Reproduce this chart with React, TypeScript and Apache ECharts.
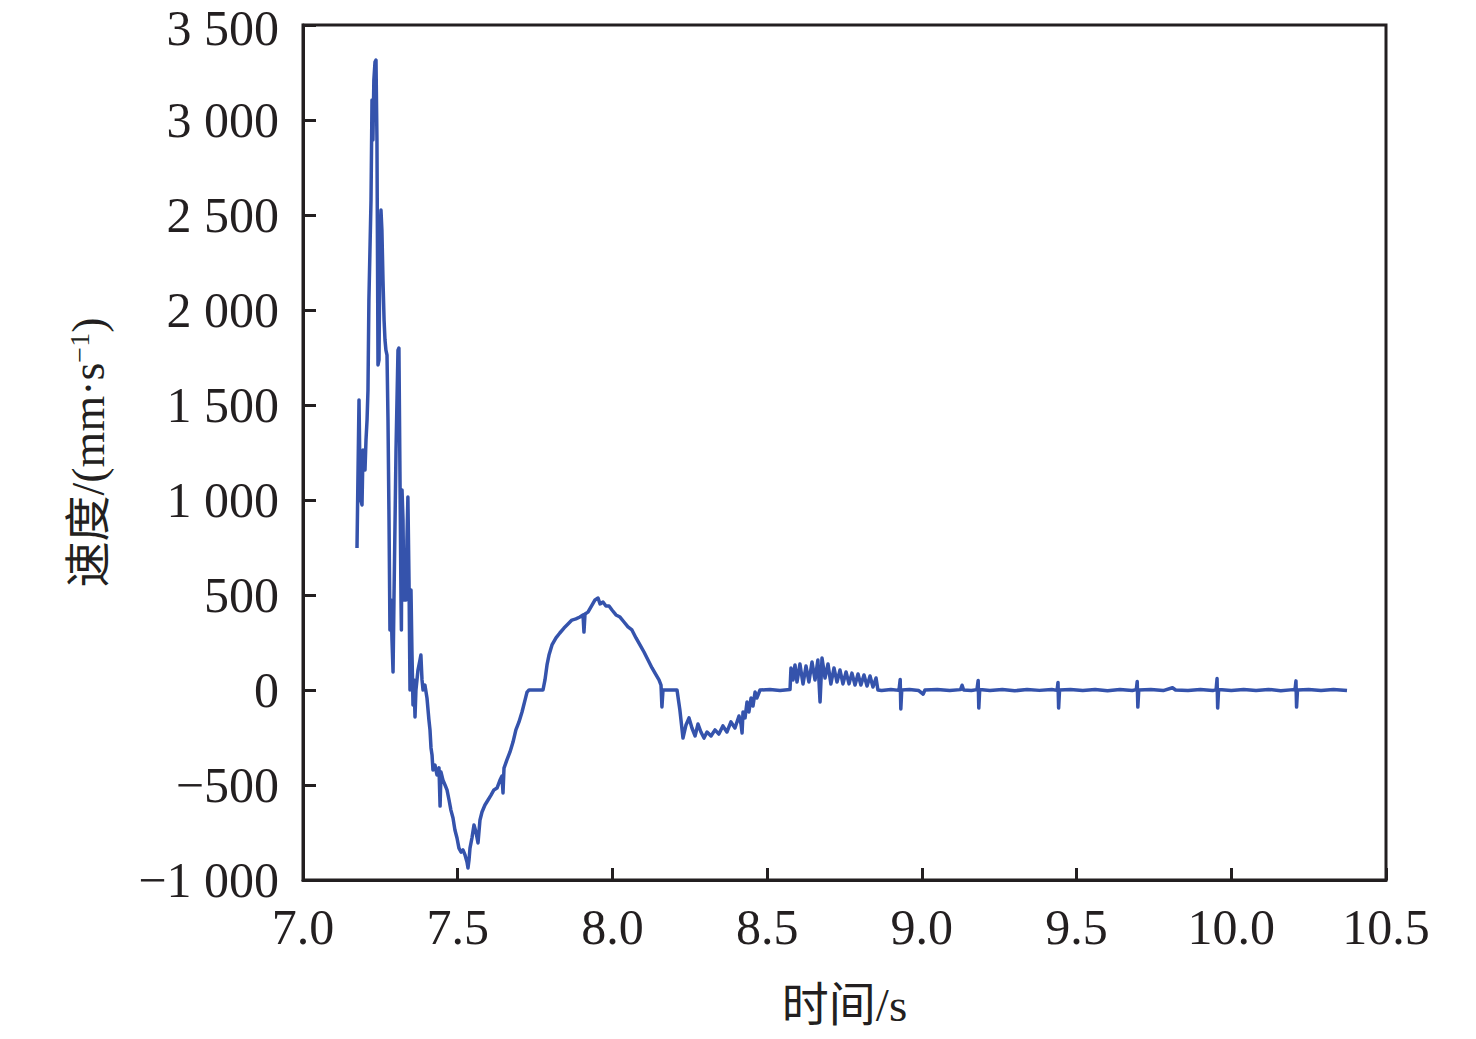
import React, { useEffect, useRef } from "react";
import * as echarts from "echarts";

const xTicks = [7.0, 7.5, 8.0, 8.5, 9.0, 9.5, 10.0, 10.5];
const yTicks = [-1000, -500, 0, 500, 1000, 1500, 2000, 2500, 3000, 3500];

// time (s)
const timeS = [
  7.1745, 7.181, 7.184, 7.187, 7.1907, 7.194, 7.197, 7.2004, 7.2036, 7.207, 7.21, 7.213, 7.2198, 7.223, 7.226, 7.229, 7.2327, 7.2359, 7.239, 7.2407,
  7.2424, 7.2456, 7.2488, 7.252, 7.255, 7.2585, 7.262, 7.265, 7.268, 7.2715, 7.2747, 7.278, 7.281, 7.2844, 7.2876, 7.291, 7.294, 7.3006, 7.307, 7.31,
  7.3135, 7.3167, 7.318, 7.32, 7.3232, 7.326, 7.3296, 7.333, 7.336, 7.339, 7.3426, 7.3458, 7.349, 7.352, 7.3555, 7.3587, 7.362, 7.365, 7.3716, 7.378,
  7.381, 7.3846, 7.388, 7.394, 7.4007, 7.407, 7.4104, 7.4137, 7.417, 7.42, 7.4266, 7.433, 7.4395, 7.443, 7.446, 7.4524, 7.459, 7.4654, 7.472, 7.478,
  7.4848, 7.491, 7.4977, 7.504, 7.5106, 7.517, 7.5236, 7.53, 7.5332, 7.5365, 7.5397, 7.546, 7.5526, 7.559, 7.5656, 7.572, 7.5785, 7.588, 7.598, 7.6076,
  7.617, 7.627, 7.6367, 7.643, 7.6464, 7.6496, 7.659, 7.669, 7.6787, 7.688, 7.698, 7.7078, 7.7175, 7.724, 7.7304, 7.75, 7.7756, 7.782, 7.7886, 7.795,
  7.8047, 7.8176, 7.83, 7.8435, 7.8564, 7.869, 7.882, 7.895, 7.905, 7.908, 7.9114, 7.921, 7.934, 7.9437, 7.9534, 7.96, 7.9695, 7.979, 7.989, 7.9986,
  8.0115, 8.0245, 8.0374, 8.0503, 8.063, 8.0762, 8.089, 8.102, 8.115, 8.128, 8.141, 8.1505, 8.157, 8.16, 8.1634, 8.186, 8.2087, 8.218, 8.228, 8.2378,
  8.2475, 8.257, 8.267, 8.2766, 8.286, 8.296, 8.3057, 8.3186, 8.3315, 8.344, 8.357, 8.37, 8.383, 8.396, 8.409, 8.4155, 8.419, 8.422, 8.4285, 8.435,
  8.441, 8.448, 8.4543, 8.461, 8.467, 8.477, 8.509, 8.5416, 8.574, 8.577, 8.5836, 8.59, 8.5965, 8.606, 8.616, 8.6256, 8.635, 8.645, 8.6547, 8.664,
  8.671, 8.6773, 8.687, 8.6967, 8.706, 8.716, 8.7258, 8.7355, 8.745, 8.755, 8.7646, 8.774, 8.784, 8.7937, 8.803, 8.813, 8.8228, 8.8325, 8.842, 8.8519,
  8.858, 8.87, 8.9, 8.926, 8.93, 8.932, 8.935, 8.96, 8.99, 9.004, 9.01, 9.05, 9.09, 9.125, 9.13, 9.135, 9.16, 9.178, 9.182, 9.184,
  9.187, 9.22, 9.26, 9.3, 9.34, 9.38, 9.42, 9.437, 9.44, 9.442, 9.445, 9.48, 9.52, 9.56, 9.6, 9.64, 9.68, 9.693, 9.696, 9.698,
  9.701, 9.74, 9.78, 9.81, 9.82, 9.86, 9.9, 9.94, 9.951, 9.954, 9.956, 9.959, 10.0, 10.04, 10.08, 10.12, 10.16, 10.2, 10.206, 10.209,
  10.211, 10.214, 10.25, 10.29, 10.33, 10.374,
];

// velocity (mm/s)
const velocity = [
  747, 1526, 1158, 1000, 974, 1263, 1210, 1158, 1316, 1421, 1579, 2053, 2579, 3105, 2895, 3210, 3305, 3316, 2895, 2316,
  1711, 1737, 2368, 2526, 2421, 2158, 1947, 1842, 1789, 1763, 1421, 895, 316, 474, 263, 95, 474, 1263, 1789, 1800,
  1105, 474, 316, 1053, 895, 474, 684, 474, 789, 1016, 579, 0, 526, 210, -79, 53, -142, 0, 105, 158,
  184, 53, 0, 26, -42, -158, -210, -305, -342, -421, -395, -447, -410, -611, -432, -474, -500, -526, -579, -632,
  -674, -737, -779, -832, -853, -842, -868, -905, -937, -895, -832, -779, -711, -747, -805, -684, -642, -605, -579, -553,
  -526, -516, -474, -453, -542, -411, -368, -326, -274, -210, -168, -116, -53, -11, 0, 0, 0, 53, 132, 184,
  237, 274, 300, 326, 347, 368, 374, 384, 395, 305, 400, 410, 447, 474, 484, 453, 463, 442, 442, 421,
  395, 384, 358, 332, 316, 274, 237, 200, 158, 116, 79, 53, 26, -89, 0, 0, 0, -105, -253, -184,
  -147, -200, -242, -179, -221, -253, -221, -242, -210, -232, -189, -221, -168, -200, -137, -179, -226, -116, -147, -63,
  -116, -42, -84, -11, -42, 0, 3, -3, 3, 116, 53, 132, 42, 137, 32, 126, 42, 147, 53, 158,
  -63, 168, 63, 137, 32, 116, 42, 105, 32, 95, 32, 89, 26, 84, 26, 79, 21, 74, 16, 63,
  0, -3, 3, -2, 55, -100, 0, 3, -3, -22, 0, 3, -3, 2, 25, 0, -3, 2, 50, -95,
  3, -3, 3, -4, 3, -2, 3, -2, 40, -95, 0, 3, -3, 3, -4, 3, -3, 2, 45, -90,
  0, 3, -3, 12, 0, -3, 3, -3, 2, 60, -95, 3, -3, 3, -3, 3, -4, 2, 0, 48,
  -90, 0, 3, -3, 3, -3,
];

const FONT = "'Liberation Serif', 'Times New Roman', 'Noto Sans CJK SC', serif";
const AXIS_COLOR = "#231f20";

function fmtY(v: number): string {
  const neg = v < 0;
  const a = Math.abs(v);
  let s = String(a);
  if (a >= 1000) s = Math.floor(a / 1000) + " " + String(a % 1000).padStart(3, "0");
  return (neg ? "\u2212" : "") + s;
}

export default function App() {
  const ref = useRef<HTMLDivElement>(null);
  useEffect(() => {
    document.body.style.margin = "0";
    if (!ref.current) return;
    const chart = echarts.init(ref.current, undefined, { renderer: "svg" });
    const data = timeS.map((t, i) => [t, velocity[i]]);
    const yMax = yTicks[yTicks.length - 1];
    chart.setOption({
      animation: false,
      backgroundColor: "#ffffff",
      grid: {
        left: 303,
        right: 90,
        top: 25,
        bottom: 159,
        outerBoundsMode: "none",
        containLabel: false,
        show: true,
        borderColor: AXIS_COLOR,
        borderWidth: 3,
        backgroundColor: "transparent",
      },
      xAxis: {
        type: "value",
        min: 7.0,
        max: 10.5,
        interval: 0.5,
        name: "时间/s",
        nameLocation: "middle",
        nameGap: 101,
        nameTextStyle: { fontFamily: FONT, fontSize: 47, color: "#231f20" },
        axisLine: { show: true, onZero: false, lineStyle: { color: AXIS_COLOR, width: 3 } },
        axisTick: { show: true, inside: true, length: 12, lineStyle: { color: AXIS_COLOR, width: 3 } },
        axisLabel: {
          fontFamily: FONT,
          fontSize: 50,
          color: "#231f20",
          margin: 22,
          formatter: (v: number) => (xTicks.includes(Number(v.toFixed(1))) ? v.toFixed(1) : ""),
        },
        splitLine: { show: false },
      },
      yAxis: {
        type: "value",
        min: -1000,
        max: 3500,
        interval: 500,
        name: "速度/(mm·s{sup|−1})",
        nameLocation: "middle",
        nameGap: 192,
        nameRotate: 90,
        nameTextStyle: {
          fontFamily: FONT,
          fontSize: 46,
          color: "#231f20",
          rich: {
            sup: { fontFamily: FONT, fontSize: 28, color: "#231f20", verticalAlign: "top", padding: [0, 0, 18, 0] },
          },
        },
        axisLine: { show: true, onZero: false, lineStyle: { color: AXIS_COLOR, width: 3 } },
        axisTick: { show: true, inside: true, length: 13, lineStyle: { color: AXIS_COLOR, width: 3 } },
        axisLabel: {
          fontFamily: FONT,
          fontSize: 50,
          color: "#231f20",
          margin: 24,
          formatter: (v: number) => {
            if (!yTicks.includes(v)) return "";
            if (v === yMax) return "{top|" + fmtY(v) + "}";
            return fmtY(v);
          },
          rich: {
            top: { fontFamily: FONT, fontSize: 50, color: "#231f20", lineHeight: 44, padding: [6, 0, 0, 0] },
          },
        },
        splitLine: { show: false },
      },
      series: [
        {
          type: "line",
          data,
          showSymbol: false,
          symbol: "none",
          lineStyle: { color: "#3553ac", width: 3.5, join: "round" },
          clip: true,
        },
      ],
    });
    return () => chart.dispose();
  }, []);
  return <div ref={ref} style={{ width: 1476, height: 1039 }} />;
}
